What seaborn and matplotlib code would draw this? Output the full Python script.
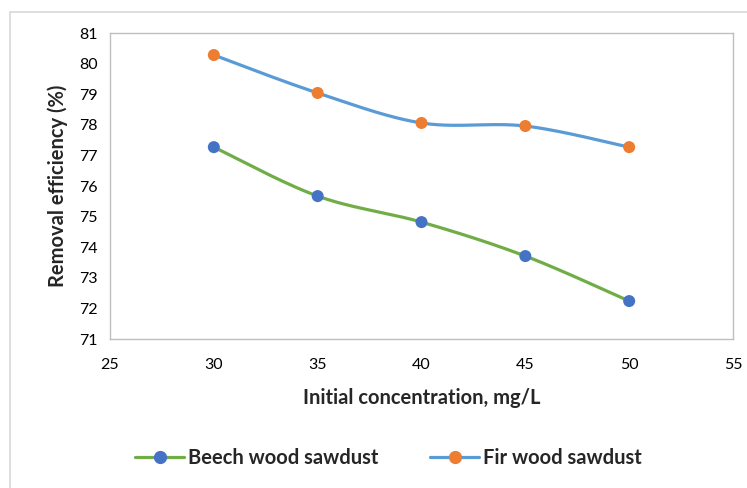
import numpy as np
import pandas as pd
import matplotlib
matplotlib.use("Agg")
import matplotlib.pyplot as plt
from matplotlib.lines import Line2D
from matplotlib.patches import Rectangle
import seaborn as sns

# Data
concentration = [30, 35, 40, 45, 50]
beech = [77.27, 75.67, 74.82, 73.71, 72.24]
fir = [80.28, 79.04, 78.06, 77.96, 77.27]
series_names = ["Beech wood sawdust", "Fir wood sawdust"]
x_ticks = [25, 30, 35, 40, 45, 50, 55]
y_ticks = [71, 72, 73, 74, 75, 76, 77, 78, 79, 80, 81]

line_colors = ["#70AD47", "#5B9BD5"]
marker_colors = ["#4472C4", "#ED7D31"]


def smooth_curve(xs, ys, steps=40):
    """Cubic Bezier smoothing through the points (Catmull-Rom style control points)."""
    xs = np.asarray(xs, float)
    ys = np.asarray(ys, float)
    n = len(xs)
    out_x, out_y = [], []
    for i in range(n - 1):
        p0 = np.array([xs[max(i - 1, 0)], ys[max(i - 1, 0)]])
        p1 = np.array([xs[i], ys[i]])
        p2 = np.array([xs[i + 1], ys[i + 1]])
        p3 = np.array([xs[min(i + 2, n - 1)], ys[min(i + 2, n - 1)]])
        c1 = p1 + (p2 - p0) / 6.0
        c2 = p2 - (p3 - p1) / 6.0
        t = np.linspace(0, 1, steps, endpoint=(i == n - 2))
        pts = ((1 - t) ** 3)[:, None] * p1 + (3 * (1 - t) ** 2 * t)[:, None] * c1 \
            + (3 * (1 - t) * t ** 2)[:, None] * c2 + (t ** 3)[:, None] * p2
        out_x.extend(pts[:, 0])
        out_y.extend(pts[:, 1])
    return np.array(out_x), np.array(out_y)


sns.set_theme(style="white")
plt.rcParams["font.family"] = ["Lato", "DejaVu Sans"]

fig = plt.figure(figsize=(7.47, 4.88), dpi=100)
# outer chart frame
fig.patches.append(Rectangle((10 / 747, -0.1), 1.2, 1 - 12 / 488 + 0.1,
                             transform=fig.transFigure, fill=False,
                             edgecolor="#d9d9d9", linewidth=1.2, zorder=0))

ax = fig.add_axes([110 / 747, 1 - 339 / 488, (733 - 110) / 747, (339 - 33) / 488])

for vals, name, lc, mc in zip([beech, fir], series_names, line_colors, marker_colors):
    cx, cy = smooth_curve(concentration, vals)
    curve = pd.DataFrame({"x": cx, "y": cy})
    sns.lineplot(data=curve, x="x", y="y", sort=False, color=lc, linewidth=2.3,
                 ax=ax, legend=False, estimator=None)
    pts = pd.DataFrame({"x": concentration, "y": vals})
    sns.scatterplot(data=pts, x="x", y="y", color=mc, s=75, edgecolor="none",
                    ax=ax, legend=False, zorder=5)

ax.set_xlim(25, 55)
ax.set_ylim(71, 81)
ax.set_xticks(x_ticks)
ax.set_yticks(y_ticks)
ax.tick_params(axis="both", labelsize=11.5, colors="#000000", length=0)
ax.tick_params(axis="x", pad=14)
ax.tick_params(axis="y", pad=9)
for s in ax.spines.values():
    s.set_color("#bfbfbf")
    s.set_linewidth(1.0)

ax.set_xlabel("Initial concentration, mg/L", fontsize=14.5, fontweight="bold", labelpad=11)
ax.set_ylabel("Removal efficiency (%)", fontsize=14.5, fontweight="bold", labelpad=8)

handles = [Line2D([0], [0], color=lc, lw=2.3, marker="o", markersize=8.5,
                  markerfacecolor=mc, markeredgecolor=mc)
           for lc, mc in zip(line_colors, marker_colors)]
fig.legend(handles, series_names, loc="center", bbox_to_anchor=(0.52, 1 - 458 / 488),
           ncol=2, frameon=False, prop={"weight": "bold", "size": 14.5},
           handlelength=2.4, handletextpad=0.2, columnspacing=2.6)

fig.savefig("out.png", dpi=100)
